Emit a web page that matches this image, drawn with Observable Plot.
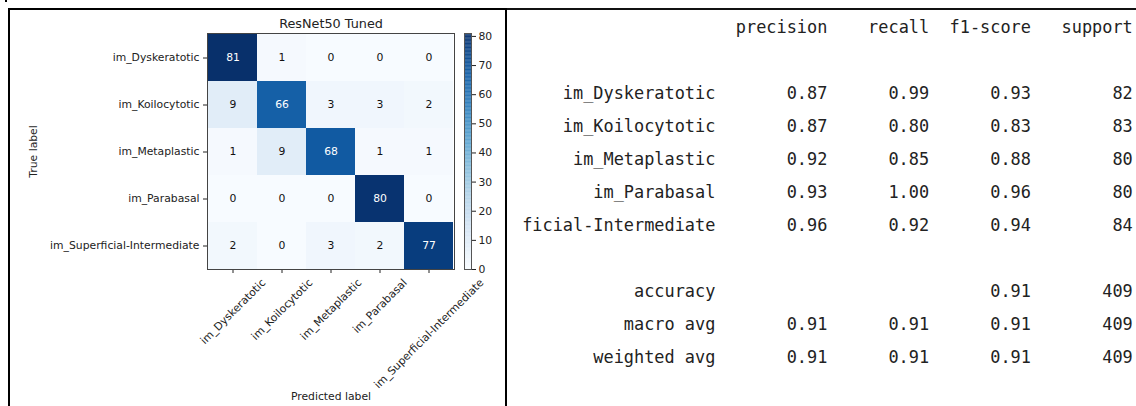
<!DOCTYPE html>
<html>
<head>
<meta charset="utf-8">
<script src="https://cdn.jsdelivr.net/npm/d3@7"></script>
<script src="https://cdn.jsdelivr.net/npm/@observablehq/plot@0.6"></script>
<style>
  html, body { margin: 0; padding: 0; background: #fff; }
  #wrap { position: relative; width: 1136px; height: 406px; overflow: hidden; background: #fff; }
  #wrap > svg { position: absolute; top: 0; }
  .ln { position: absolute; background: #000; }
</style>
</head>
<body>
<div id="wrap"></div>
<script>
// ---------------- data ----------------
const categories = ["im_Dyskeratotic", "im_Koilocytotic", "im_Metaplastic", "im_Parabasal", "im_Superficial-Intermediate"];
const confusion = [
  [81, 1, 0, 0, 0],
  [9, 66, 3, 3, 2],
  [1, 9, 68, 1, 1],
  [0, 0, 0, 80, 0],
  [2, 0, 3, 2, 77]
];
const chartTitle = "ResNet50 Tuned";
const xAxisLabel = "Predicted label";
const yAxisLabel = "True label";
const colorTicks = [0, 10, 20, 30, 40, 50, 60, 70, 80];

const reportHeaders = ["precision", "recall", "f1-score", "support"];
const precision = [0.87, 0.87, 0.92, 0.93, 0.96];
const recall = [0.99, 0.80, 0.85, 1.00, 0.92];
const f1score = [0.93, 0.83, 0.88, 0.96, 0.94];
const support = [82, 83, 80, 80, 84];
const accuracy = 0.91;
const totalSupport = 409;
const macroAvg = [0.91, 0.91, 0.91];
const weightedAvg = [0.91, 0.91, 0.91];

// ---------------- confusion matrix ----------------
const wrap = document.getElementById("wrap");
const fs = 10.8;
const cells = confusion.flatMap((row, i) => row.map((v, j) => ({t: categories[i], p: categories[j], v})));
const vmax = d3.max(cells, d => d.v);

const ctx = document.createElement("canvas").getContext("2d");
ctx.font = `${fs}px "DejaVu Sans"`;
const xLabelMarks = categories.map(c => {
  const L = ctx.measureText(c).width;
  const h = fs * 1.17;
  return Plot.text([c], {
    x: d => d, frameAnchor: "bottom", text: d => d, rotate: -45,
    textAnchor: "middle", lineAnchor: "middle",
    dy: 7 + (L + h) / 2 * Math.SQRT1_2, fontSize: fs, fill: "#222"
  });
});

const heat = Plot.plot({
  width: 505, height: 406,
  marginLeft: 207, marginRight: 51, marginTop: 33, marginBottom: 137,
  style: {fontFamily: "DejaVu Sans", fontSize: fs + "px", background: "transparent", color: "#222"},
  x: {domain: categories, padding: 0, tickSize: 4, tickFormat: () => "", label: null},
  y: {domain: categories, padding: 0, tickSize: 4, tickPadding: 4, label: null},
  color: {type: "linear", scheme: "blues", domain: [0, vmax]},
  marks: [
    Plot.cell(cells, {x: "p", y: "t", fill: "v", inset: 0}),
    Plot.text(cells.filter(d => d.v > vmax / 2), {x: "p", y: "t", text: d => String(d.v), fill: "white", fontSize: fs}),
    Plot.text(cells.filter(d => d.v <= vmax / 2), {x: "p", y: "t", text: d => String(d.v), fill: "#111", fontSize: fs}),
    Plot.frame({stroke: "#444"}),
    ...xLabelMarks,
    Plot.text([chartTitle], {frameAnchor: "top", dy: -10, lineAnchor: "middle", textAnchor: "middle", text: d => d, fontSize: 12.8, fill: "#222"}),
    Plot.text([xAxisLabel], {frameAnchor: "bottom", dy: 127, lineAnchor: "middle", textAnchor: "middle", text: d => d, fontSize: fs, fill: "#222"}),
    Plot.text([yAxisLabel], {frameAnchor: "left", dx: -174, rotate: -90, lineAnchor: "middle", textAnchor: "middle", text: d => d, fontSize: fs, fill: "#222"})
  ]
});
heat.style.left = "0px";
wrap.appendChild(heat);

// ---------------- colorbar ----------------
const gradStep = vmax / 300;
const grad = d3.range(0, vmax, gradStep);
const cbar = Plot.plot({
  width: 50, height: 406,
  marginLeft: 4, marginRight: 39, marginTop: 33, marginBottom: 137,
  style: {fontFamily: "DejaVu Sans", fontSize: fs + "px", background: "transparent", color: "#222"},
  x: {axis: null, domain: [0, 1]},
  y: {domain: [0, vmax], axis: "right", ticks: colorTicks, tickSize: 4, tickPadding: 3, label: null},
  color: {type: "linear", scheme: "blues", domain: [0, vmax]},
  marks: [
    Plot.rect(grad, {x1: 0, x2: 1, y1: d => d, y2: d => Math.min(vmax, d + gradStep * 1.2), fill: d => d + gradStep / 2}),
    Plot.frame({stroke: "#555"})
  ]
});
cbar.style.left = "460px";
wrap.appendChild(cbar);

// ---------------- classification report ----------------
const charW = 10.18, x0 = 440, svgLeft = 516;
const labelWidth = d3.max(categories, c => c.length);
// first character column visible to the right of the panel edge (labels are cut there, as in the reference)
const firstVisible = Math.ceil((svgLeft - x0) / charW);
const visibleLabel = s => {
  const start = labelWidth - s.length;
  return start >= firstVisible ? s : s.slice(firstVisible - start);
};
const colEnd = col => col === 0 ? labelWidth : labelWidth + 1 + 10 * col;
const reportCells = [];
reportHeaders.forEach((h, k) => reportCells.push({line: 0, col: k + 1, text: h}));
categories.forEach((c, i) => {
  reportCells.push({line: 2 + i, col: 0, text: visibleLabel(c)});
  [precision[i], recall[i], f1score[i]].forEach((v, k) => reportCells.push({line: 2 + i, col: k + 1, text: v.toFixed(2)}));
  reportCells.push({line: 2 + i, col: 4, text: String(support[i])});
});
reportCells.push({line: 8, col: 0, text: "accuracy"});
reportCells.push({line: 8, col: 3, text: accuracy.toFixed(2)});
reportCells.push({line: 8, col: 4, text: String(totalSupport)});
[["macro avg", macroAvg], ["weighted avg", weightedAvg]].forEach(([name, vals], r) => {
  reportCells.push({line: 9 + r, col: 0, text: name});
  vals.forEach((v, k) => reportCells.push({line: 9 + r, col: k + 1, text: v.toFixed(2)}));
  reportCells.push({line: 9 + r, col: 4, text: String(totalSupport)});
});

const report = Plot.plot({
  width: 1136 - svgLeft, height: 406,
  marginLeft: 0, marginRight: 0, marginTop: 10, marginBottom: 0,
  style: {background: "transparent", overflow: "hidden"},
  x: {axis: null, domain: [0, 68], range: [x0 - svgLeft, x0 - svgLeft + 68 * charW]},
  y: {axis: null, domain: [0, 10], range: [27, 357]},
  marks: [
    Plot.text(reportCells, {
      x: d => colEnd(d.col), y: "line", text: "text", textAnchor: "end",
      fontFamily: "DejaVu Sans Mono", fontSize: 16.9, fill: "#222"
    })
  ]
});
report.style.left = svgLeft + "px";
wrap.appendChild(report);

// ---------------- panel borders ----------------
function line(l, t, w, h, c) {
  const d = document.createElement("div");
  d.className = "ln";
  Object.assign(d.style, {left: l + "px", top: t + "px", width: w + "px", height: h + "px"});
  if (c) d.style.background = c;
  wrap.appendChild(d);
}
line(5, 0, 2, 2);          // stray dot
line(8, 8, 499, 2);        // left panel top
line(8, 8, 2, 398);        // left panel left
line(505, 8, 2, 398);      // divider
line(507, 8, 629, 1.5, "#111"); // right panel top
</script>
</body>
</html>
